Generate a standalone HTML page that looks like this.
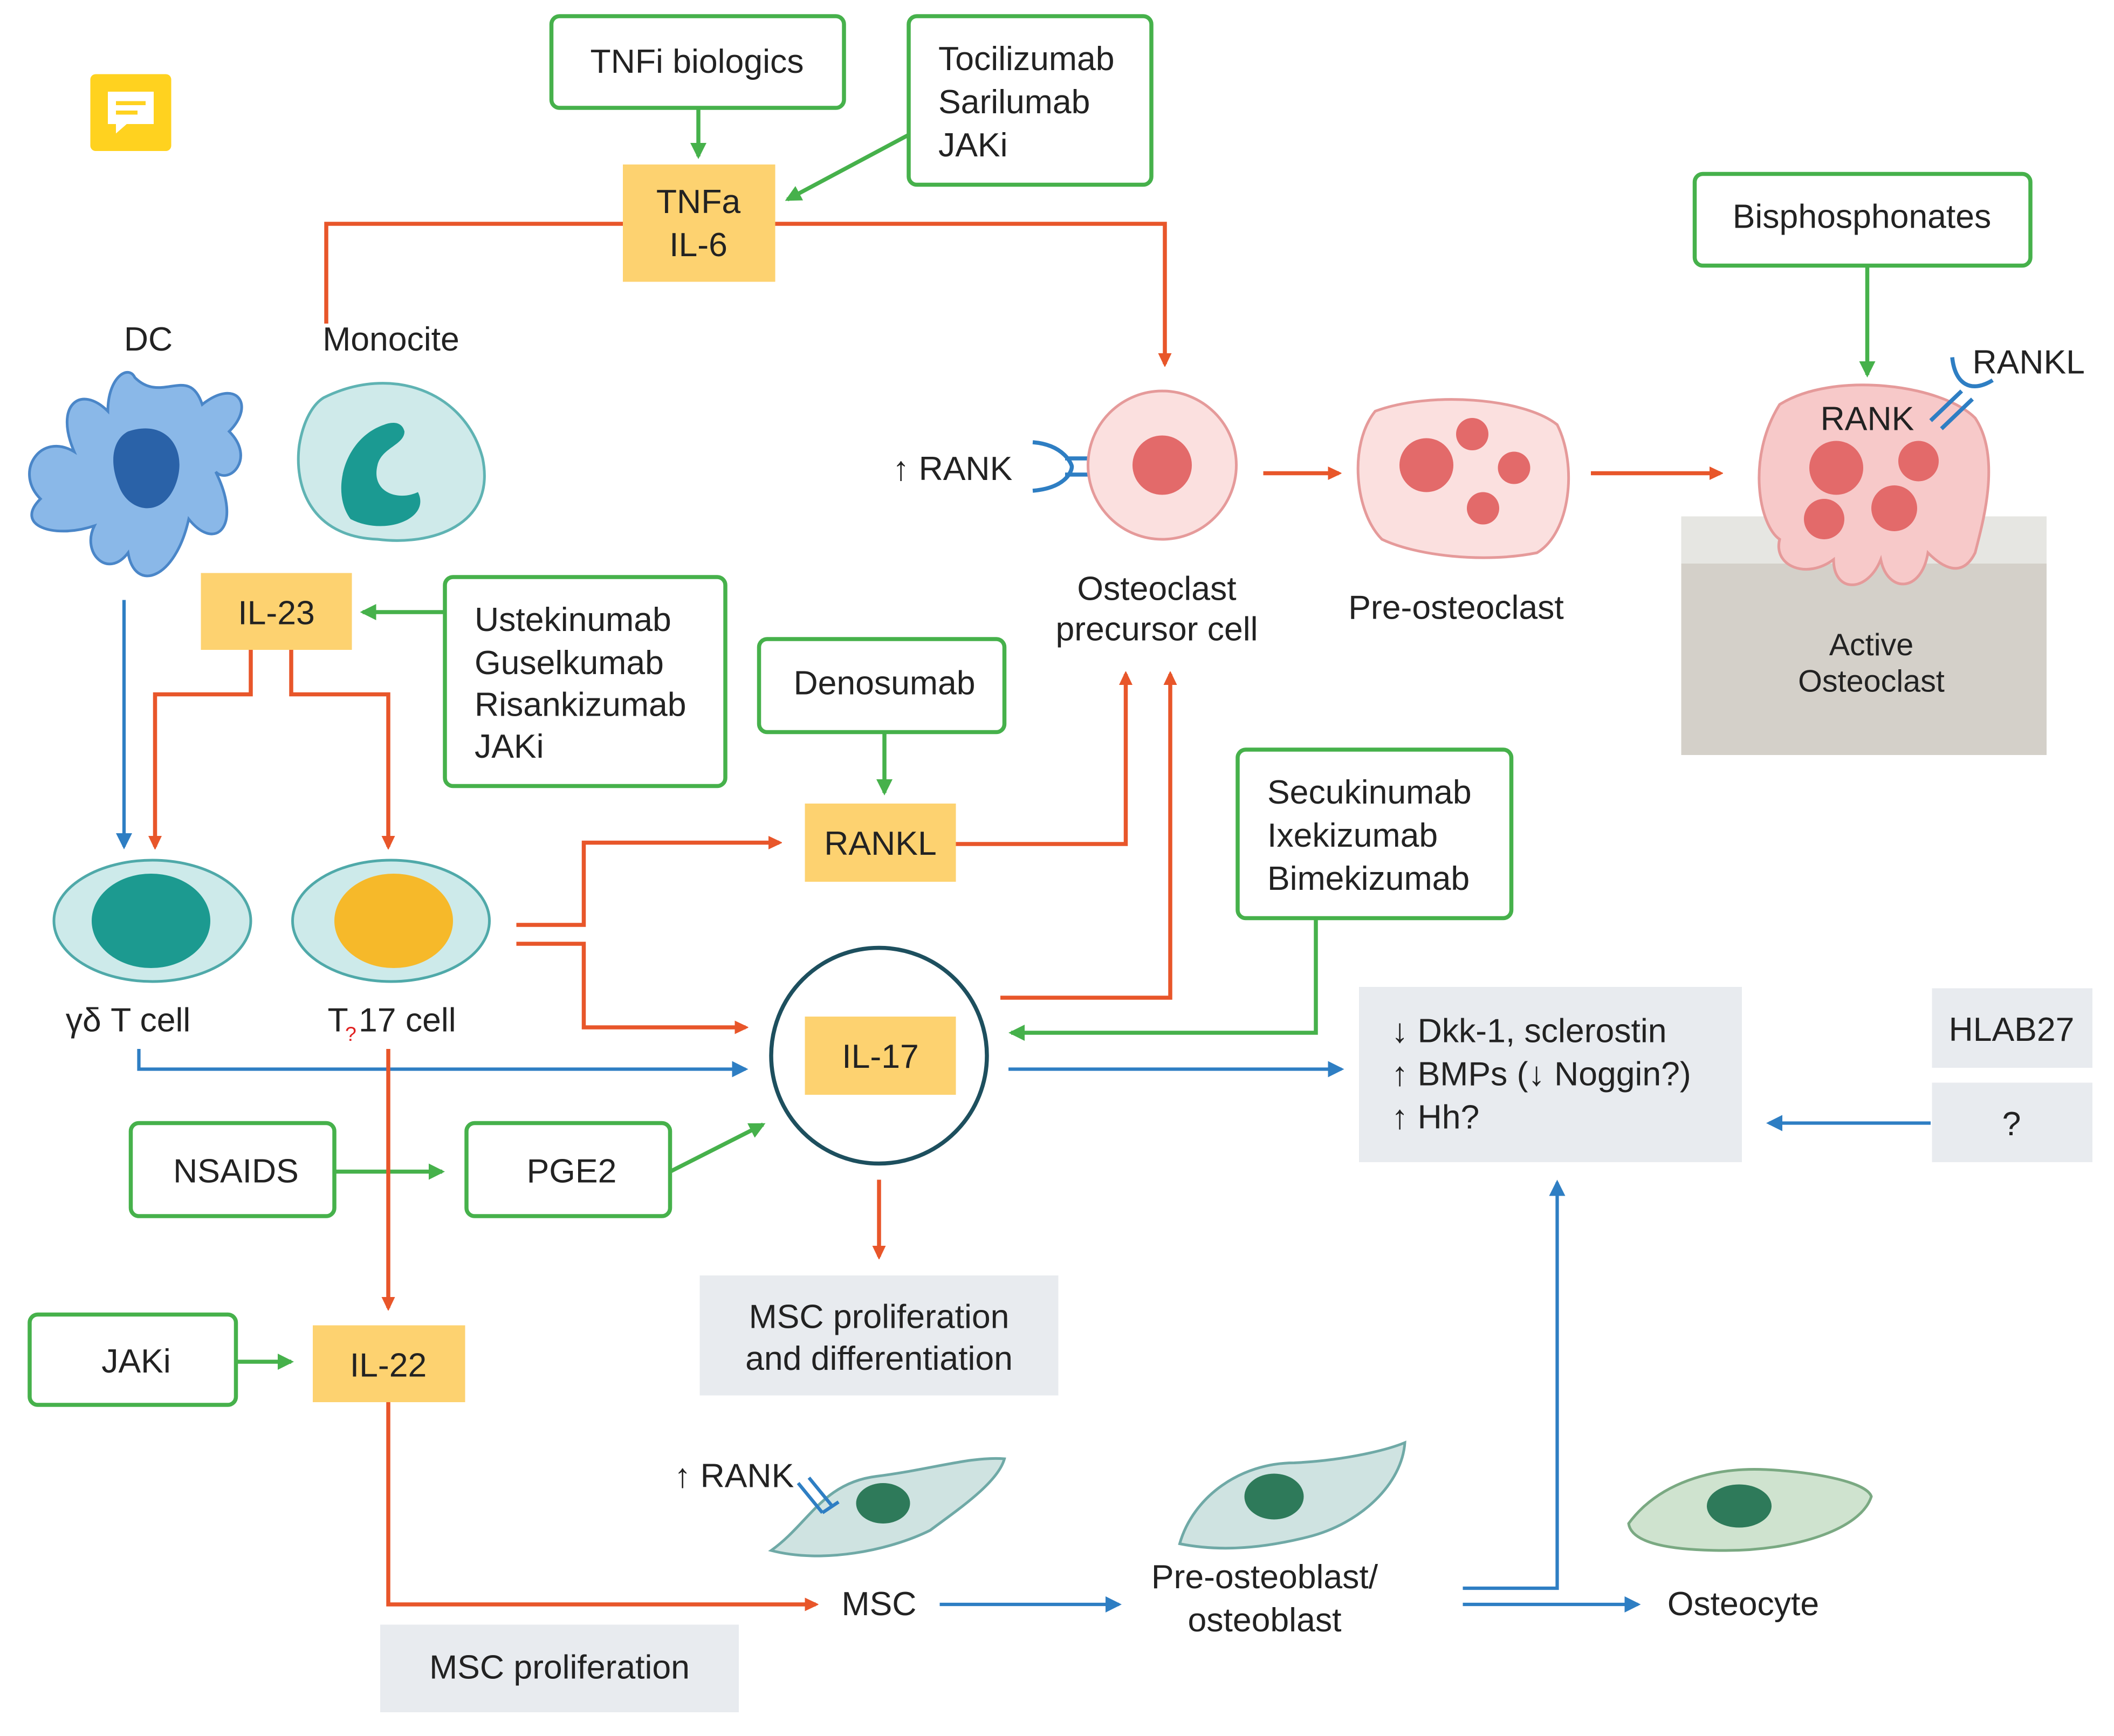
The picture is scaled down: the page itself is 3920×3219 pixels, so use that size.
<!DOCTYPE html>
<html><head><meta charset="utf-8"><style>
html,body{margin:0;padding:0;background:#fff}
svg{display:block}
text{font-family:"Liberation Sans",sans-serif;font-size:25px;fill:#222}
.g{fill:#fff;stroke:#46b14b;stroke-width:3}
.y{fill:#fdd270}
.gr{fill:#e8ebef}
.o{stroke:#e8562a;stroke-width:3;fill:none}
.gl{stroke:#46b14b;stroke-width:3;fill:none}
.b{stroke:#2e7ec3;stroke-width:2.5;fill:none}
</style></head><body>
<svg width="3920" height="3219" viewBox="0 0 1568 1287.6" xmlns="http://www.w3.org/2000/svg">
<defs>
<marker id="ao" markerWidth="10" markerHeight="10" refX="8" refY="5" orient="auto" markerUnits="userSpaceOnUse"><path d="M0,0 L14,5 L0,10z" fill="#e8562a" transform="scale(0.75,1)"/></marker>
<marker id="ag" markerWidth="12" markerHeight="12" refX="10" refY="6" orient="auto" markerUnits="userSpaceOnUse"><path d="M0,0 L12,6 L0,12z" fill="#46b14b"/></marker>
<marker id="ab" markerWidth="12" markerHeight="12" refX="10" refY="6" orient="auto" markerUnits="userSpaceOnUse"><path d="M0,0 L12,6 L0,12z" fill="#2e7ec3"/></marker>
</defs>
<!-- note icon -->
<rect x="67" y="55" width="60" height="57" rx="4" fill="#ffd21f"/>
<path d="M80 68 h34 v24 h-20 l-8 7 v-7 h-6z" fill="#fff"/>
<rect x="86" y="75" width="22" height="3" fill="#ffd21f"/><rect x="86" y="82" width="16" height="3" fill="#ffd21f"/>

<!-- top drug boxes -->
<rect class="g" x="409" y="12" width="217" height="68" rx="6"/><text x="517" y="54" text-anchor="middle">TNFi biologics</text>
<rect class="g" x="674" y="12" width="180" height="125" rx="6"/>
<text x="696" y="52">Tocilizumab</text><text x="696" y="84">Sarilumab</text><text x="696" y="116">JAKi</text>
<line class="gl" x1="518" y1="80" x2="518" y2="116" marker-end="url(#ag)"/>
<line class="gl" x1="674" y1="100" x2="584" y2="148" marker-end="url(#ag)"/>
<rect class="y" x="462" y="122" width="113" height="87"/>
<text x="518" y="158" text-anchor="middle">TNFa</text><text x="518" y="190" text-anchor="middle">IL-6</text>
<path class="o" d="M462 166 H242 V240"/>
<path class="o" d="M575 166 H864 V270" marker-end="url(#ao)"/>

<!-- DC & monocyte -->
<text x="110" y="260" text-anchor="middle">DC</text>
<text x="290" y="260" text-anchor="middle">Monocite</text>
<path d="M100 280 C120 300 140 270 150 300 C175 280 190 300 170 320 C190 340 170 360 160 350 C180 390 160 410 140 385 C130 430 100 440 95 410 C80 430 60 410 70 390 C40 400 10 390 30 370 C10 350 30 320 55 335 C40 300 60 285 80 305 C80 280 95 270 100 280z" fill="#8ab8e8" stroke="#4a86c8" stroke-width="2"/>
<path d="M95 320 C125 310 140 335 130 360 C120 385 95 380 88 360 C80 340 85 325 95 320z" fill="#2a62a8"/>
<path d="M240 295 C290 270 345 290 358 340 C368 390 320 405 280 400 C230 398 218 360 222 330 C225 312 232 300 240 295z" fill="#cfeaea" stroke="#5fb3b3" stroke-width="2"/>
<path d="M285 315 C255 325 245 365 260 385 C285 398 320 385 310 365 C295 372 275 365 280 345 C283 332 300 330 300 320 C298 312 290 313 285 315z" fill="#1b9a92"/>

<!-- IL-23 -->
<rect class="y" x="149" y="425" width="112" height="57"/><text x="205" y="463" text-anchor="middle">IL-23</text>
<rect class="g" x="330" y="428" width="208" height="155" rx="6"/>
<text x="352" y="468">Ustekinumab</text><text x="352" y="500">Guselkumab</text><text x="352" y="531">Risankizumab</text><text x="352" y="562">JAKi</text>
<line class="gl" x1="330" y1="454" x2="269" y2="454" marker-end="url(#ag)"/>
<line class="b" x1="92" y1="445" x2="92" y2="628" marker-end="url(#ab)"/>
<path class="o" d="M186 482 V515 H115 V628" marker-end="url(#ao)"/>
<path class="o" d="M216 482 V515 H288 V628" marker-end="url(#ao)"/>

<!-- T cells -->
<ellipse cx="113" cy="683" rx="73" ry="45" fill="#cdeaea" stroke="#4fa9a9" stroke-width="2"/>
<ellipse cx="112" cy="683" rx="44" ry="35" fill="#1c9a90"/>
<ellipse cx="290" cy="683" rx="73" ry="45" fill="#cdeaea" stroke="#4fa9a9" stroke-width="2"/>
<ellipse cx="292" cy="683" rx="44" ry="35" fill="#f6b92a"/>
<text x="95" y="765" text-anchor="middle">γδ T cell</text>
<text x="243" y="765">T</text><text x="256" y="772" style="font-size:15px;fill:#e02020">?</text><text x="266" y="765">17 cell</text>

<path class="o" d="M383 686 H433 V625 H578" marker-end="url(#ao)"/>
<path class="o" d="M383 700 H433 V762 H553" marker-end="url(#ao)"/>

<!-- RANKL -->
<rect class="g" x="563" y="474" width="182" height="69" rx="6"/><text x="656" y="515" text-anchor="middle">Denosumab</text>
<line class="gl" x1="656" y1="543" x2="656" y2="588" marker-end="url(#ag)"/>
<rect class="y" x="597" y="596" width="112" height="58"/><text x="653" y="634" text-anchor="middle">RANKL</text>
<path class="o" d="M709 626 H835 V500" marker-end="url(#ao)"/>
<path class="o" d="M742 740 H868 V500" marker-end="url(#ao)"/>

<!-- IL-17 -->
<circle cx="652" cy="783" r="80" fill="#fff" stroke="#1d4f5e" stroke-width="3"/>
<rect class="y" x="597" y="754" width="112" height="58"/><text x="653" y="792" text-anchor="middle">IL-17</text>
<rect class="g" x="918" y="556" width="203" height="125" rx="6"/>
<text x="940" y="596">Secukinumab</text><text x="940" y="628">Ixekizumab</text><text x="940" y="660">Bimekizumab</text>
<path class="gl" d="M976 681 V766 H750" marker-end="url(#ag)"/>
<path class="b" d="M103 778 V793 H553" marker-end="url(#ab)"/>
<line class="b" x1="748" y1="793" x2="995" y2="793" marker-end="url(#ab)"/>

<rect class="gr" x="1008" y="732" width="284" height="130"/>
<text x="1032" y="773">↓ Dkk-1, sclerostin</text><text x="1032" y="805">↑ BMPs  (↓ Noggin?)</text><text x="1032" y="837">↑ Hh?</text>
<rect class="gr" x="1433" y="733" width="119" height="59"/><text x="1492" y="772" text-anchor="middle">HLAB27</text>
<rect class="gr" x="1433" y="803" width="119" height="59"/><text x="1492" y="842" text-anchor="middle">?</text>
<line class="b" x1="1432" y1="833" x2="1312" y2="833" marker-end="url(#ab)"/>

<!-- NSAIDS -->
<rect class="g" x="97" y="833" width="151" height="69" rx="6"/><text x="175" y="877" text-anchor="middle">NSAIDS</text>
<rect class="g" x="346" y="833" width="151" height="69" rx="6"/><text x="424" y="877" text-anchor="middle">PGE2</text>
<line class="gl" x1="248" y1="869" x2="328" y2="869" marker-end="url(#ag)"/>
<line class="gl" x1="497" y1="869" x2="566" y2="834" marker-end="url(#ag)"/>
<line class="o" x1="652" y1="875" x2="652" y2="932" marker-end="url(#ao)"/>
<rect class="gr" x="519" y="946" width="266" height="89"/>
<text x="652" y="985" text-anchor="middle">MSC proliferation</text><text x="652" y="1016" text-anchor="middle">and differentiation</text>

<line class="o" x1="288" y1="778" x2="288" y2="970" marker-end="url(#ao)"/>
<rect class="g" x="22" y="975" width="153" height="67" rx="6"/><text x="101" y="1018" text-anchor="middle">JAKi</text>
<line class="gl" x1="175" y1="1010" x2="216" y2="1010" marker-end="url(#ag)"/>
<rect class="y" x="232" y="983" width="113" height="57"/><text x="288" y="1021" text-anchor="middle">IL-22</text>
<path class="o" d="M288 1040 V1190 H605" marker-end="url(#ao)"/>
<rect class="gr" x="282" y="1205" width="266" height="65"/><text x="415" y="1245" text-anchor="middle">MSC proliferation</text>

<!-- MSC row -->
<text x="500" y="1103">↑ RANK</text>
<path d="M572 1150 C600 1130 610 1100 650 1095 C690 1090 720 1080 745 1082 C740 1100 710 1120 690 1135 C660 1150 610 1160 572 1150z" fill="#cfe3e1" stroke="#6fa9a6" stroke-width="2"/>
<ellipse cx="655" cy="1115" rx="20" ry="15" fill="#2e7a5a"/>
<path d="M592 1100 l18 22 M600 1096 l18 22 M610 1122 l12 -8" stroke="#2e7ec3" stroke-width="2.5" fill="none"/>
<text x="652" y="1198" text-anchor="middle">MSC</text>
<line class="b" x1="697" y1="1190" x2="830" y2="1190" marker-end="url(#ab)"/>
<path d="M875 1145 C885 1110 920 1085 960 1085 C1000 1083 1030 1075 1042 1070 C1040 1100 1010 1130 970 1140 C930 1150 900 1150 875 1145z" fill="#cfe3e1" stroke="#6fa9a6" stroke-width="2"/>
<ellipse cx="945" cy="1110" rx="22" ry="17" fill="#2e7a5a"/>
<text x="938" y="1178" text-anchor="middle">Pre-osteoblast/</text><text x="938" y="1210" text-anchor="middle">osteoblast</text>
<path class="b" d="M1085 1178 H1155 V877" marker-end="url(#ab)"/>
<line class="b" x1="1085" y1="1190" x2="1215" y2="1190" marker-end="url(#ab)"/>
<path d="M1208 1130 C1230 1100 1270 1088 1310 1090 C1350 1092 1385 1100 1388 1110 C1380 1135 1330 1150 1280 1150 C1240 1150 1210 1145 1208 1130z" fill="#cfe3cf" stroke="#7aa982" stroke-width="2"/>
<ellipse cx="1290" cy="1117" rx="24" ry="16" fill="#2e7a5a"/>
<text x="1293" y="1198" text-anchor="middle">Osteocyte</text>

<!-- osteoclast row -->
<text x="662" y="356">↑ RANK</text>
<path d="M766 328 C790 330 795 345 795 346 C795 350 790 362 766 364" stroke="#2e7ec3" stroke-width="3" fill="none"/>
<line x1="790" y1="340" x2="818" y2="340" stroke="#2e7ec3" stroke-width="3"/><line x1="790" y1="352" x2="818" y2="352" stroke="#2e7ec3" stroke-width="3"/>
<circle cx="862" cy="345" r="55" fill="#fbe0df" stroke="#e59a9a" stroke-width="2"/>
<circle cx="862" cy="345" r="22" fill="#e36a6a"/>
<text x="858" y="445" text-anchor="middle">Osteoclast</text><text x="858" y="475" text-anchor="middle">precursor cell</text>
<line class="o" x1="937" y1="351" x2="993" y2="351" marker-end="url(#ao)"/>
<path d="M1020 305 C1060 290 1130 295 1155 315 C1170 345 1165 395 1140 410 C1100 418 1050 412 1025 400 C1005 380 1000 330 1020 305z" fill="#fbe0df" stroke="#e59a9a" stroke-width="2"/>
<circle cx="1058" cy="345" r="20" fill="#e36a6a"/><circle cx="1092" cy="322" r="12" fill="#e36a6a"/><circle cx="1123" cy="347" r="12" fill="#e36a6a"/><circle cx="1100" cy="377" r="12" fill="#e36a6a"/>
<text x="1080" y="459" text-anchor="middle">Pre-osteoclast</text>
<line class="o" x1="1180" y1="351" x2="1276" y2="351" marker-end="url(#ao)"/>
<rect class="g" x="1257" y="129" width="249" height="68" rx="6"/><text x="1381" y="169" text-anchor="middle">Bisphosphonates</text>
<line class="gl" x1="1385" y1="197" x2="1385" y2="278" marker-end="url(#ag)"/>
<rect x="1247" y="383" width="271" height="177" fill="#d4d0c9"/>
<rect x="1247" y="383" width="271" height="35" fill="#e6e6e2"/>
<path d="M1320 300 C1360 275 1440 285 1465 310 C1485 340 1470 390 1465 410 C1455 430 1440 420 1430 410 C1425 440 1400 440 1395 415 C1385 440 1360 440 1360 415 C1340 430 1315 420 1320 400 C1305 390 1295 340 1320 300z" fill="#f7c9c9" stroke="#e59a9a" stroke-width="2"/>
<circle cx="1362" cy="347" r="20" fill="#e36a6a"/><circle cx="1423" cy="342" r="15" fill="#e36a6a"/><circle cx="1405" cy="377" r="17" fill="#e36a6a"/><circle cx="1353" cy="385" r="15" fill="#e36a6a"/>
<path d="M1448 265 C1450 285 1462 292 1478 282" stroke="#2e7ec3" stroke-width="3" fill="none"/>
<line x1="1432" y1="312" x2="1455" y2="290" stroke="#2e7ec3" stroke-width="3"/><line x1="1440" y1="318" x2="1463" y2="296" stroke="#2e7ec3" stroke-width="3"/>
<text x="1385" y="319" text-anchor="middle">RANK</text>
<text x="1463" y="277">RANKL</text>
<text x="1388" y="486" text-anchor="middle" style="font-size:23px">Active</text>
<text x="1388" y="513" text-anchor="middle" style="font-size:23px">Osteoclast</text>
</svg>
</body></html>
